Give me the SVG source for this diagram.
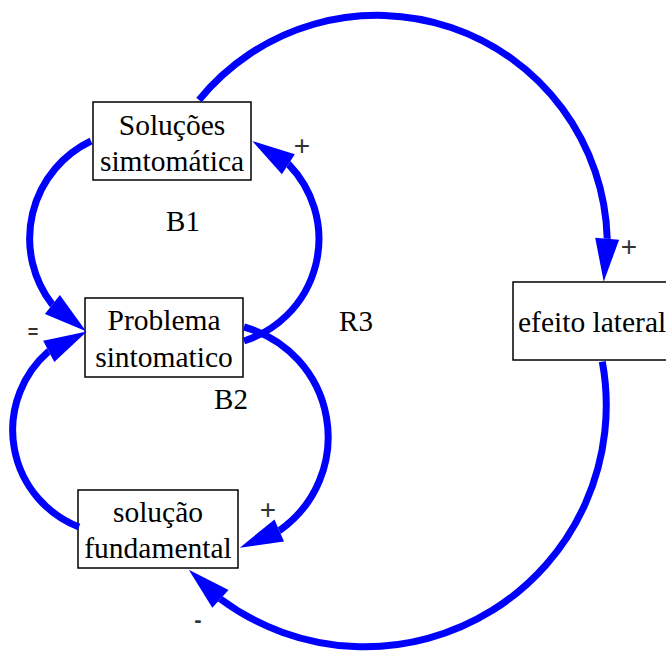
<svg xmlns="http://www.w3.org/2000/svg" width="666" height="653" viewBox="0 0 666 653">
  <style>
    .box { fill: #ffffff; stroke: #000000; stroke-width: 1.5; }
    .name { font-family: "Liberation Serif", "Times New Roman", serif; font-size: 29.5px; fill: #000000; text-anchor: middle; }
    .loop { font-family: "Liberation Serif", "Times New Roman", serif; font-size: 29px; fill: #000000; text-anchor: middle; }
    .sign { font-family: "Liberation Sans", Arial, sans-serif; font-size: 28px; fill: #333333; text-anchor: middle; }
    .mark { font-family: "Liberation Sans", Arial, sans-serif; font-weight: bold; fill: #333333; text-anchor: middle; }
    .link { fill: none; stroke: #0000ff; stroke-width: 7; stroke-linecap: butt; marker-end: url(#head); }
  </style>
  <defs>
    <marker id="head" markerUnits="userSpaceOnUse" viewBox="0 -13 44 26" markerWidth="44" markerHeight="26" refX="0" refY="0" orient="auto" overflow="visible">
      <path d="M0,-12 L43,0 L0,12 z" fill="#0000ff"/>
    </marker>
  </defs>

  <!-- variables -->
  <g id="solucoes-simtomatica">
    <rect class="box" x="93" y="102" width="158" height="78"/>
    <text class="name" x="172" y="135">Soluções</text>
    <text class="name" x="172" y="171">simtomática</text>
  </g>
  <g id="problema-sintomatico">
    <rect class="box" x="85" y="298" width="158" height="79"/>
    <text class="name" x="164" y="330">Problema</text>
    <text class="name" x="164" y="367">sintomatico</text>
  </g>
  <g id="solucao-fundamental">
    <rect class="box" x="78" y="490" width="160" height="78"/>
    <text class="name" x="158" y="522">solução</text>
    <text class="name" x="158" y="558">fundamental</text>
  </g>
  <g id="efeito-lateral">
    <rect class="box" x="513" y="282" width="170" height="78"/>
    <text class="name" x="518" y="332" style="text-anchor:start">efeito lateral</text>
  </g>

  <!-- causal links -->
  <g id="links">
    <path class="link" d="M199,100 A230,230 0 0 1 607.2,238.3 l-0.04,0.5"/>
    <path class="link" d="M244,341 A107,107 0 0 0 288.8,164.5 l-0.42,-0.27"/>
    <path class="link" d="M91,141 A108,108 0 0 0 52,304.2 l0.39,0.31"/>
    <path class="link" d="M79,527 A104,104 0 0 1 48.3,351.7 l0.44,-0.23"/>
    <path class="link" d="M244,327 A114,114 0 0 1 279.7,530.3 l-0.46,0.2"/>
    <path class="link" d="M602.3,361.7 A241.5,241.5 0 0 1 220.8,599.2 l-0.37,-0.34"/>
  </g>

  <!-- polarities -->
  <g id="polarities">
    <text class="sign" x="302" y="155">+</text>
    <text class="sign" x="629" y="256">+</text>
    <text class="sign" x="268" y="519">+</text>
    <text class="mark" x="198" y="627" style="font-size:22px">-</text>
    <text class="mark" x="33" y="338" style="font-size:18px">=</text>
  </g>

  <!-- loop identifiers -->
  <g id="loops">
    <text class="loop" x="183" y="231">B1</text>
    <text class="loop" x="231" y="409">B2</text>
    <text class="loop" x="356" y="331">R3</text>
  </g>
</svg>
